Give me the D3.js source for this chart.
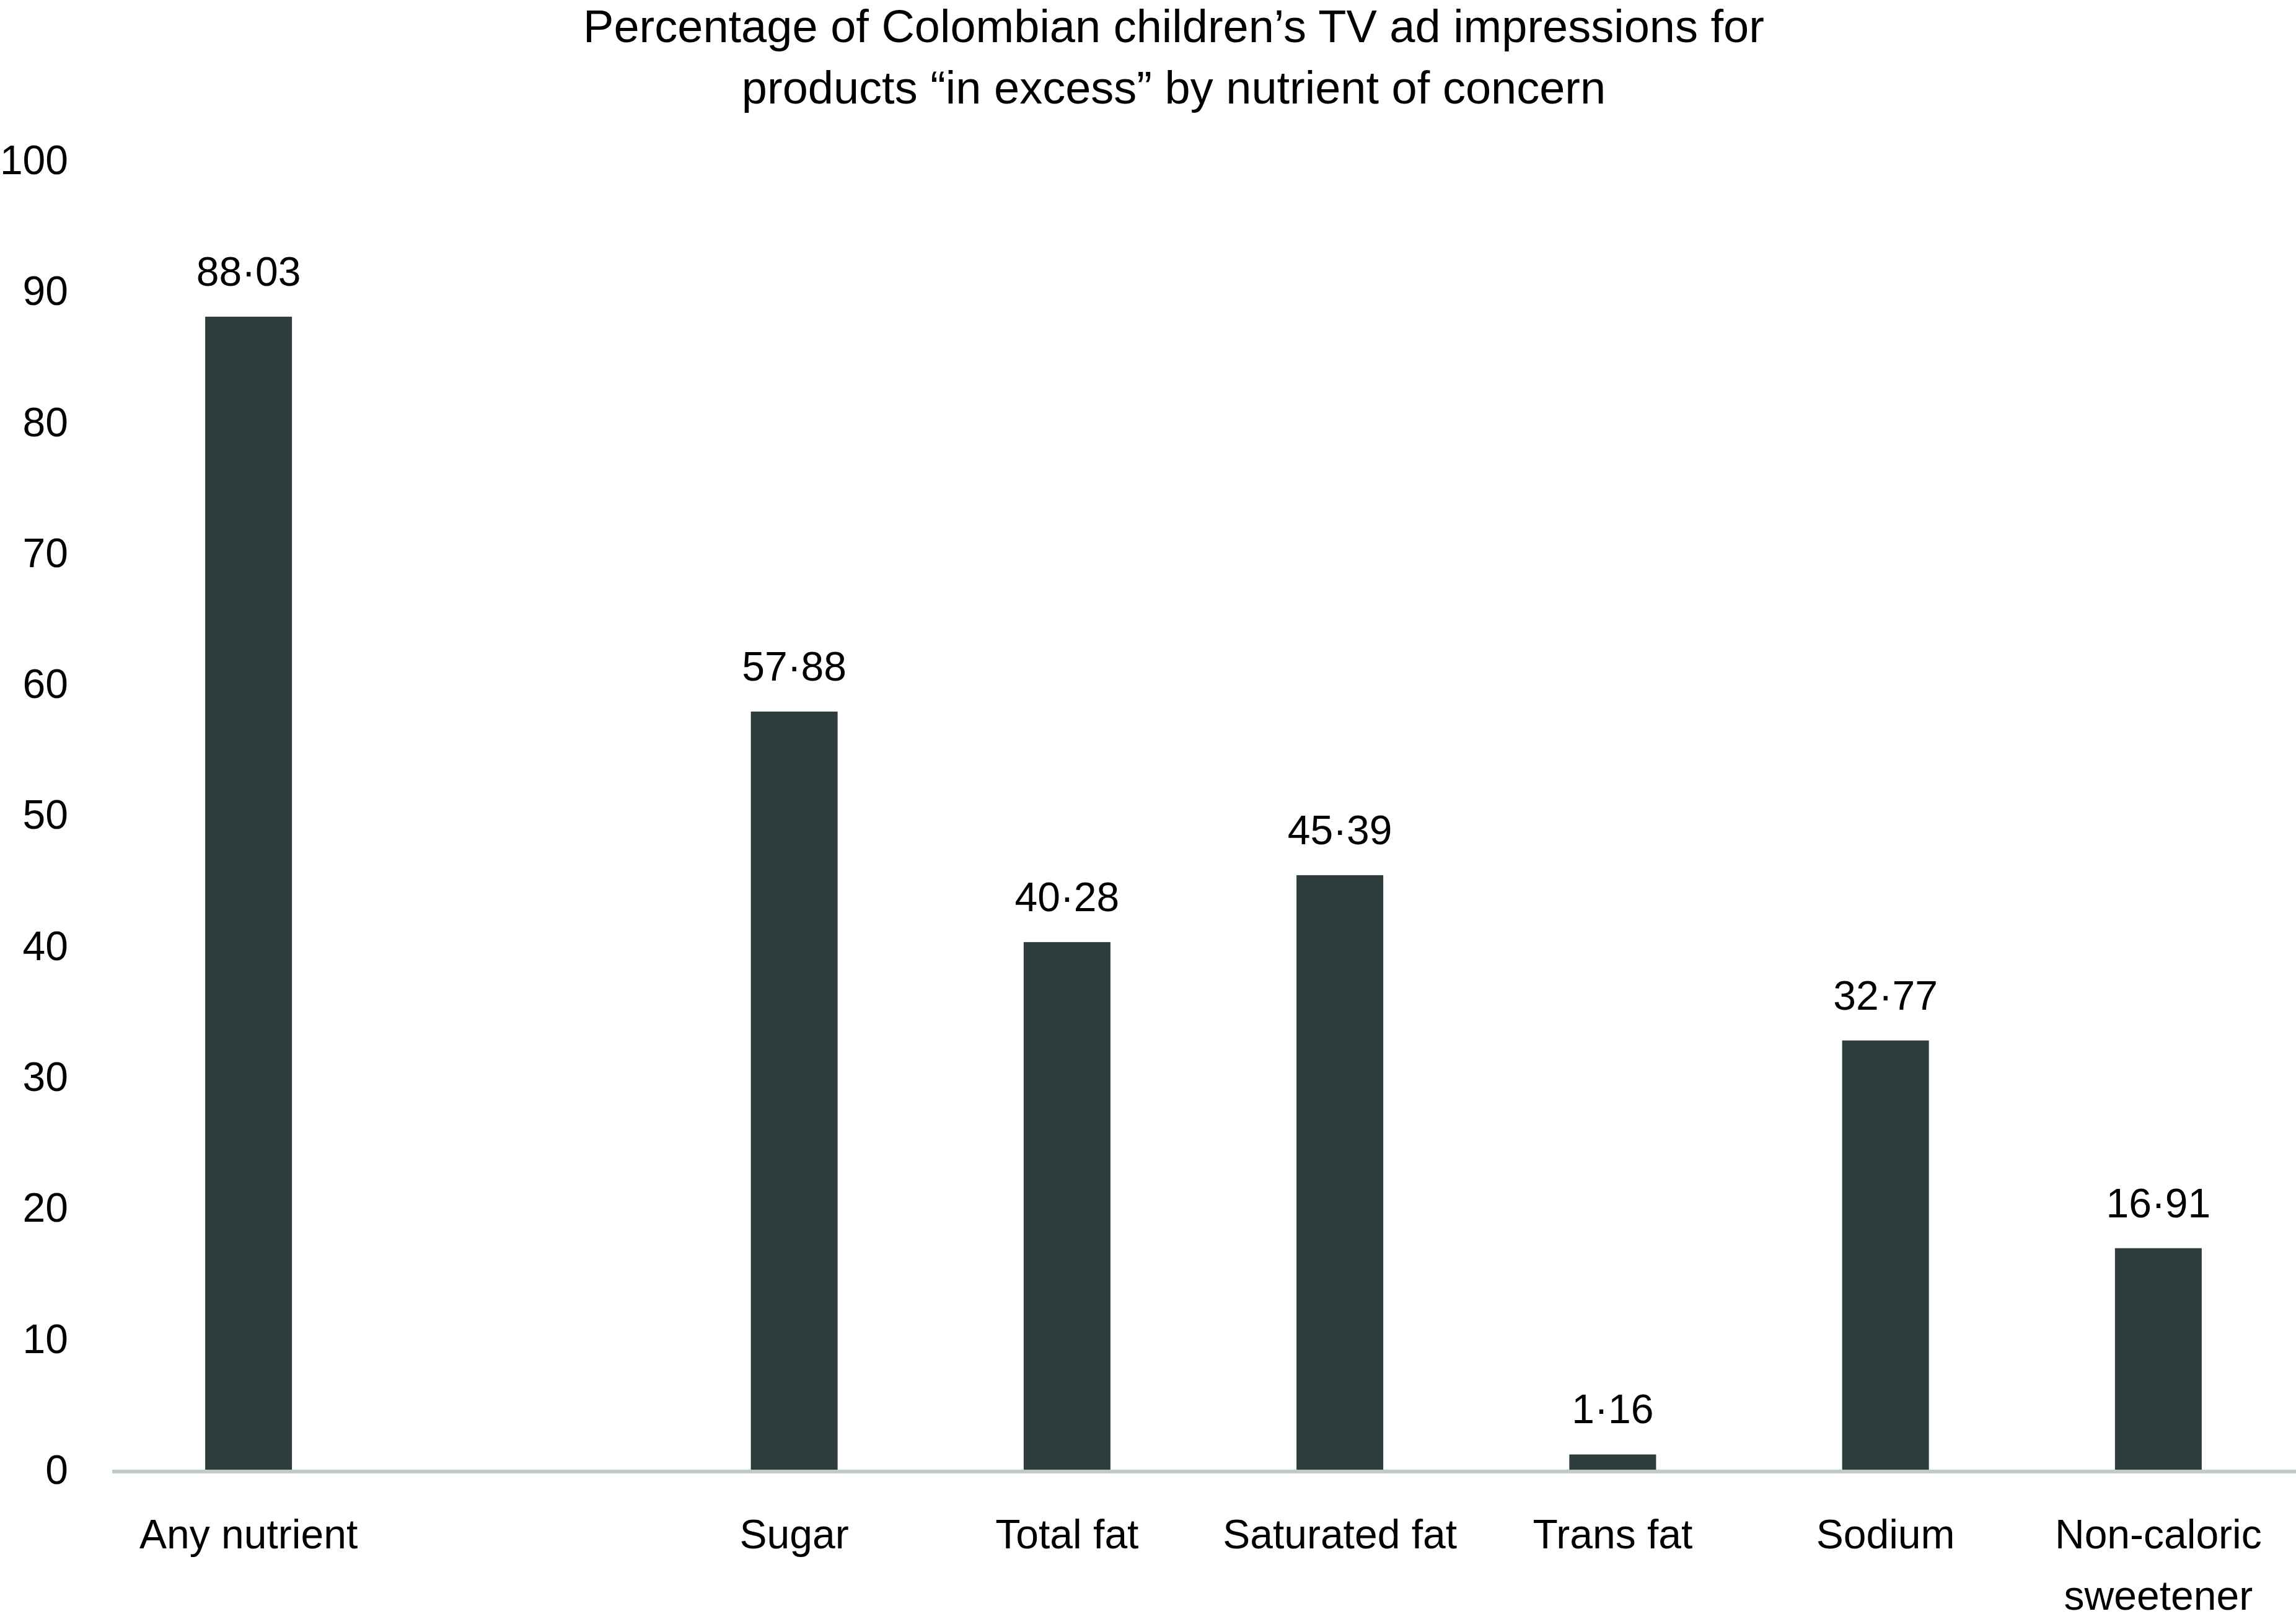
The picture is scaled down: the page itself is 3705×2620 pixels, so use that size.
<!DOCTYPE html>
<html>
<head>
<meta charset="utf-8">
<script src="https://cdn.jsdelivr.net/npm/d3@7"></script>
<style>
  body { margin: 0; background: #fff; }
  text { font-family: "Liberation Sans", Arial, sans-serif; fill: #000; }
</style>
</head>
<body>
<svg id="svg"></svg>
<script>
// chart values (blank slot after "Any nutrient" is kept as in the original)
const categories = ['Any nutrient', '', 'Sugar', 'Total fat', 'Saturated fat', 'Trans fat', 'Sodium', 'Non-caloric sweetener'];
const values = [88.03, null, 57.88, 40.28, 45.39, 1.16, 32.77, 16.91];
const yTicks = [0, 10, 20, 30, 40, 50, 60, 70, 80, 90, 100];
const titleLines = ['Percentage of Colombian children\u2019s TV ad impressions for', 'products \u201cin excess\u201d by nutrient of concern'];

const width = 3705;
const height = 2620;

const svg = d3.select('#svg')
  .attr('width', width)
  .attr('height', height);

const data = categories.map((c, i) => ({ key: i, name: c, value: values[i] }));

const xScale = d3.scaleBand()
  .domain(data.map(d => d.key))
  .range([181, 3703]);

const yScale = d3.scaleLinear()
  .domain([0, 100])
  .range([2371, 258]);

const barW = xScale.bandwidth() * 0.318;

// title
svg.append('text')
  .attr('x', 1894)
  .attr('text-anchor', 'middle')
  .attr('font-size', '74px')
  .selectAll('tspan')
  .data(titleLines)
  .join('tspan')
  .attr('x', 1894)
  .attr('y', (d, i) => 68 + i * 99)
  .text(d => d);

// y axis labels only
const yAxis = svg.append('g')
  .attr('transform', 'translate(110,0)')
  .call(d3.axisLeft(yScale).tickValues(yTicks).tickSize(0).tickPadding(0));
yAxis.select('.domain').remove();
yAxis.selectAll('text')
  .attr('font-size', '66px')
  .style('font-family', '"Liberation Sans", Arial, sans-serif')
  .attr('fill', '#000')
  .attr('dy', '0.34em');

// bars
const bars = data.filter(d => d.value != null);

svg.append('g')
  .selectAll('rect')
  .data(bars)
  .join('rect')
  .attr('x', d => xScale(d.key) + xScale.bandwidth() / 2 - barW / 2)
  .attr('y', d => yScale(d.value))
  .attr('width', barW)
  .attr('height', d => yScale(0) - yScale(d.value))
  .attr('fill', '#2d3c3c');

// baseline
svg.append('line')
  .attr('x1', xScale.range()[0])
  .attr('x2', width)
  .attr('y1', yScale(0) + 3)
  .attr('y2', yScale(0) + 3)
  .attr('stroke', '#bfcbc9')
  .attr('stroke-width', 6);

// value labels
svg.append('g')
  .selectAll('text')
  .data(bars)
  .join('text')
  .attr('x', d => xScale(d.key) + xScale.bandwidth() / 2)
  .attr('y', d => yScale(d.value) - 50)
  .attr('text-anchor', 'middle')
  .attr('font-size', '66px')
  .text(d => d3.format('.2f')(d.value).replace('.', '\u00b7'));

// category labels
const catLabels = svg.append('g')
  .selectAll('text')
  .data(bars)
  .join('text')
  .attr('x', d => xScale(d.key) + xScale.bandwidth() / 2)
  .attr('y', 2498)
  .attr('text-anchor', 'middle')
  .attr('font-size', '66px');

catLabels.each(function(d) {
  const words = d.name === 'Non-caloric sweetener' ? ['Non-caloric', 'sweetener'] : [d.name];
  d3.select(this).selectAll('tspan')
    .data(words)
    .join('tspan')
    .attr('x', xScale(d.key) + xScale.bandwidth() / 2)
    .attr('dy', (w, i) => i === 0 ? 0 : 99)
    .text(w => w);
});
</script>
</body>
</html>
